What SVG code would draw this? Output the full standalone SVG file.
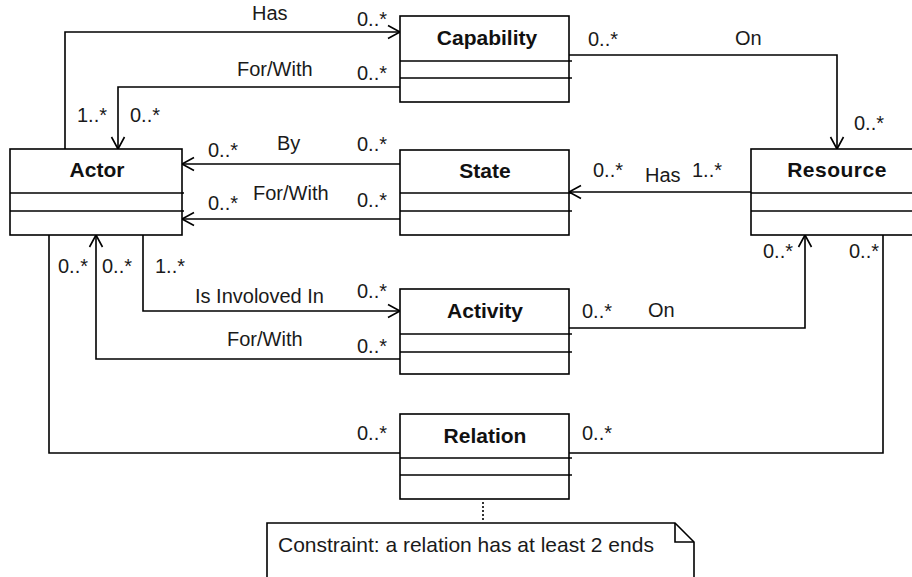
<svg xmlns="http://www.w3.org/2000/svg" width="912" height="577" viewBox="0 0 912 577">
<defs>
<style>
.box{fill:#fff;stroke:#000;stroke-width:1.6}
.sep{stroke:#000;stroke-width:1.6}
.name{font-family:"Liberation Sans",Arial,sans-serif;font-size:21px;font-weight:bold;fill:#111;text-anchor:middle}
.lbl{font-family:"Liberation Sans",Arial,sans-serif;font-size:20px;fill:#1a1a1a}
.conn{fill:none;stroke:#000;stroke-width:1.6}
</style>
<marker id="arr" markerUnits="userSpaceOnUse" markerWidth="16" markerHeight="16" viewBox="-14 -8 16 16" refX="0" refY="0" orient="auto">
<path d="M-12,-6.5 L0,0 L-12,6.5" fill="none" stroke="#000" stroke-width="1.6"/>
</marker>
</defs>
<rect width="912" height="577" fill="#fff"/>

<g id="connectors">
<path class="conn" d="M65,149 V32 H400" marker-end="url(#arr)"/>
<path class="conn" d="M400,87 H118 V149" marker-end="url(#arr)"/>
<path class="conn" d="M569,55 H837 V149" marker-end="url(#arr)"/>
<path class="conn" d="M400,164 H182" marker-end="url(#arr)"/>
<path class="conn" d="M400,219 H182" marker-end="url(#arr)"/>
<path class="conn" d="M751,192 H569" marker-end="url(#arr)"/>
<path class="conn" d="M143,235 V311 H400" marker-end="url(#arr)"/>
<path class="conn" d="M400,359 H96 V235" marker-end="url(#arr)"/>
<path class="conn" d="M49,235 V453 H400"/>
<path class="conn" d="M569,328 H805 V235" marker-end="url(#arr)"/>
<path class="conn" d="M569,453 H883 V235"/>
<path class="conn" d="M483,502 V521" stroke-dasharray="2,2"/>

<text class="lbl" x="252" y="20">Has</text>
<text class="lbl" x="357" y="26">0..*</text>
<text class="lbl" x="237" y="76">For/With</text>
<text class="lbl" x="357" y="80">0..*</text>
<text class="lbl" x="77" y="122">1..*</text>
<text class="lbl" x="130" y="122">0..*</text>
<text class="lbl" x="588" y="46">0..*</text>
<text class="lbl" x="735" y="45">On</text>
<text class="lbl" x="854" y="130">0..*</text>
<text class="lbl" x="277" y="150">By</text>
<text class="lbl" x="208" y="157">0..*</text>
<text class="lbl" x="357" y="151">0..*</text>
<text class="lbl" x="253" y="200">For/With</text>
<text class="lbl" x="208" y="210">0..*</text>
<text class="lbl" x="357" y="207">0..*</text>
<text class="lbl" x="593" y="177">0..*</text>
<text class="lbl" x="645" y="182">Has</text>
<text class="lbl" x="692" y="177">1..*</text>
<text class="lbl" x="58" y="273">0..*</text>
<text class="lbl" x="102" y="273">0..*</text>
<text class="lbl" x="155" y="273">1..*</text>
<text class="lbl" x="195" y="303">Is Involoved In</text>
<text class="lbl" x="357" y="298">0..*</text>
<text class="lbl" x="227" y="346">For/With</text>
<text class="lbl" x="357" y="353">0..*</text>
<text class="lbl" x="582" y="318">0..*</text>
<text class="lbl" x="648" y="317">On</text>
<text class="lbl" x="763" y="258">0..*</text>
<text class="lbl" x="849" y="258">0..*</text>
<text class="lbl" x="357" y="440">0..*</text>
<text class="lbl" x="582" y="440">0..*</text>
</g>

<g id="actor">
<rect class="box" x="10" y="149" width="172" height="86"/>
<line class="sep" x1="10" y1="193" x2="184" y2="193"/>
<line class="sep" x1="10" y1="211" x2="184" y2="211"/>
<text class="name" x="97" y="177">Actor</text>
</g>

<g id="capability">
<rect class="box" x="400" y="16" width="169" height="86"/>
<line class="sep" x1="400" y1="61" x2="572" y2="61"/>
<line class="sep" x1="400" y1="78" x2="572" y2="78"/>
<text class="name" x="487" y="45">Capability</text>
</g>

<g id="state">
<rect class="box" x="400" y="150" width="169" height="85"/>
<line class="sep" x1="400" y1="193" x2="572" y2="193"/>
<line class="sep" x1="400" y1="211" x2="572" y2="211"/>
<text class="name" x="485" y="178">State</text>
</g>

<g id="resource">
<rect class="box" x="751" y="149" width="172" height="86"/>
<line class="sep" x1="751" y1="193" x2="923" y2="193"/>
<line class="sep" x1="751" y1="211" x2="923" y2="211"/>
<text class="name" x="837" y="177" letter-spacing="0.5">Resource</text>
</g>

<g id="activity">
<rect class="box" x="400" y="289" width="169" height="85"/>
<line class="sep" x1="400" y1="334" x2="572" y2="334"/>
<line class="sep" x1="400" y1="352" x2="572" y2="352"/>
<text class="name" x="485" y="318">Activity</text>
</g>

<g id="relation">
<rect class="box" x="400" y="414" width="169" height="85"/>
<line class="sep" x1="400" y1="458" x2="572" y2="458"/>
<line class="sep" x1="400" y1="475" x2="572" y2="475"/>
<text class="name" x="485" y="443">Relation</text>
</g>

<g id="note">
<path class="box" d="M267,523 H675 L694,542 V590 H267 Z"/>
<path class="conn" d="M675,523 V542 H694"/>
<text class="lbl" x="278" y="552" style="font-size:21px">Constraint: a relation has at least 2 ends</text>
</g>
</svg>
